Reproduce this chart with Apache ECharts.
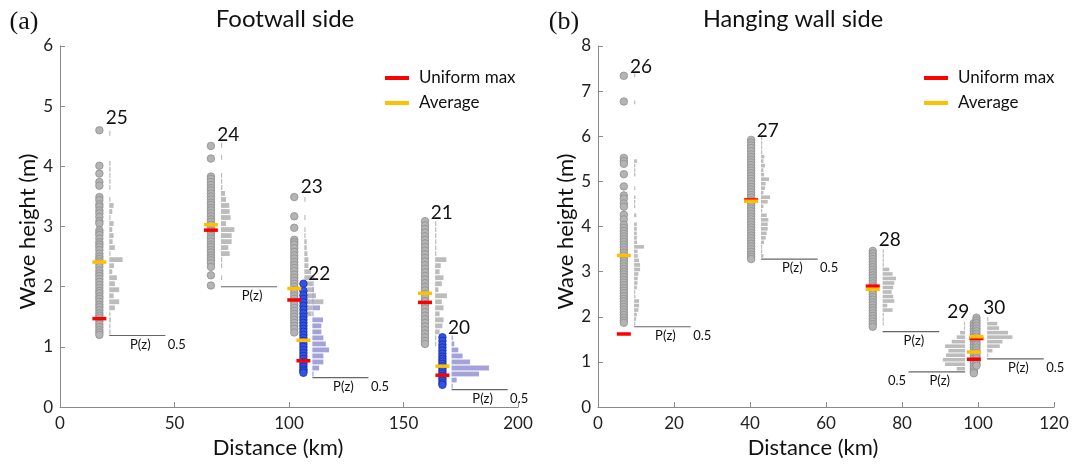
<!DOCTYPE html>
<html><head><meta charset="utf-8">
<script src="https://cdn.jsdelivr.net/npm/echarts@6/dist/echarts.min.js"></script>
<style>html,body{margin:0;padding:0;background:#fff}#c{width:1073px;height:464px}</style>
</head><body><div id="c"></div>
<script>
// ---------------- DATA ----------------
// Panel (a) Footwall side
const fwSites = ['25', '24', '23', '22', '21', '20'];
const fwDistance = [17.2, 65.9, 102.3, 106.3, 159.4, 167.0];   // km, column of points
const fwHistBase = [21.5, 70.3, 106.7, 110.2, 163.8, 171.0];   // km, P(z)=0 line of histogram
const fwUniformMax = [1.47, 2.94, 1.78, 0.77, 1.74, 0.53];
const fwAverage = [2.41, 3.03, 1.97, 1.11, 1.89, 0.68];
const fwPzLevel = [1.19, 2.00, null, 0.49, null, 0.29];

const h25 = [4.60, 4.01, 3.88, 3.74, 3.68, 3.49, 3.44, 3.37, 3.33, 3.27, 3.22, 3.16, 3.09, 3.05, 2.94, 2.90, 2.86, 2.80, 2.74, 2.70, 2.66, 2.61, 2.55, 2.50, 2.46, 2.42, 2.38, 2.33, 2.27, 2.22, 2.18, 2.13, 2.08, 2.03, 1.98, 1.93, 1.89, 1.84, 1.80, 1.75, 1.70, 1.66, 1.61, 1.56, 1.52, 1.48, 1.43, 1.38, 1.33, 1.28, 1.24, 1.20];
const h24 = [4.34, 4.13, 3.83, 3.79, 3.74, 3.69, 3.64, 3.60, 3.55, 3.50, 3.45, 3.40, 3.36, 3.31, 3.27, 3.22, 3.17, 3.12, 3.08, 3.03, 2.98, 2.93, 2.89, 2.84, 2.80, 2.75, 2.70, 2.66, 2.61, 2.57, 2.52, 2.48, 2.44, 2.39, 2.33, 2.19, 2.02];
const h23 = [3.49, 3.17, 2.98, 2.78, 2.74, 2.70, 2.64, 2.58, 2.52, 2.47, 2.41, 2.36, 2.31, 2.26, 2.20, 2.15, 2.10, 2.05, 2.00, 1.95, 1.90, 1.85, 1.80, 1.75, 1.70, 1.65, 1.60, 1.55, 1.50, 1.45, 1.40, 1.35, 1.30, 1.24];
const h22 = [2.05, 1.93, 1.86, 1.80, 1.74, 1.68, 1.62, 1.56, 1.50, 1.45, 1.40, 1.35, 1.30, 1.25, 1.20, 1.15, 1.10, 1.05, 1.00, 0.95, 0.90, 0.85, 0.80, 0.75, 0.71, 0.67, 0.63, 0.60, 0.57];
const h21 = [3.09, 3.02, 2.96, 2.90, 2.84, 2.78, 2.72, 2.66, 2.60, 2.54, 2.48, 2.42, 2.36, 2.30, 2.24, 2.18, 2.12, 2.06, 2.00, 1.94, 1.88, 1.82, 1.76, 1.70, 1.64, 1.58, 1.52, 1.46, 1.40, 1.34, 1.28, 1.22, 1.16, 1.10, 1.05];
const h20 = [1.16, 1.10, 1.04, 0.99, 0.94, 0.89, 0.84, 0.80, 0.76, 0.72, 0.68, 0.64, 0.60, 0.56, 0.52, 0.48, 0.44, 0.40, 0.37];

// histograms: [bin centre (m), P(z)]
const p25 = [[4.55,0.01],[4.05,0.012],[3.95,0.012],[3.85,0.01],[3.75,0.012],[3.65,0.008],[3.45,0.01],[3.35,0.039],[3.25,0.027],[3.15,0.01],[3.05,0.039],[2.95,0.027],[2.85,0.039],[2.75,0.03],[2.65,0.05],[2.55,0.01],[2.45,0.119],[2.35,0.042],[2.25,0.027],[2.15,0.068],[2.05,0.05],[1.95,0.089],[1.85,0.039],[1.75,0.089],[1.65,0.05],[1.55,0.01],[1.45,0.015],[1.35,0.01],[1.25,0.012]];
const p24 = [[4.35,0.008],[4.15,0.01],[3.85,0.01],[3.75,0.01],[3.65,0.012],[3.55,0.036],[3.45,0.045],[3.35,0.074],[3.25,0.077],[3.15,0.086],[3.05,0.045],[2.95,0.119],[2.85,0.095],[2.75,0.095],[2.65,0.065],[2.55,0.077],[2.45,0.01],[2.35,0.01],[2.15,0.008]];
const p23 = [[3.45,0.01],[3.15,0.008],[2.95,0.008],[2.85,0.01],[2.75,0.021],[2.65,0.021],[2.55,0.027],[2.45,0.036],[2.35,0.036],[2.25,0.06],[2.15,0.089],[2.05,0.071],[1.95,0.086],[1.85,0.104],[1.75,0.17],[1.65,0.071],[1.55,0.065],[1.45,0.01],[1.35,0.01],[1.25,0.008]];
const p22 = [[2.05,0.008],[1.95,0.008],[1.85,0.01],[1.75,0.01],[1.65,0.068],[1.55,0.01],[1.45,0.095],[1.35,0.08],[1.25,0.08],[1.15,0.098],[1.05,0.12],[0.95,0.149],[0.85,0.098],[0.75,0.098],[0.65,0.06],[0.55,0.01]];
const p21 = [[3.05,0.01],[2.95,0.008],[2.85,0.01],[2.75,0.008],[2.65,0.01],[2.55,0.01],[2.45,0.1],[2.35,0.05],[2.25,0.04],[2.15,0.075],[2.05,0.06],[1.95,0.03],[1.85,0.105],[1.75,0.06],[1.65,0.075],[1.55,0.04],[1.45,0.075],[1.35,0.065],[1.25,0.04],[1.15,0.01],[1.05,0.008]];
const p20 = [[1.15,0.01],[1.05,0.024],[0.95,0.06],[0.85,0.098],[0.75,0.164],[0.65,0.333],[0.55,0.244],[0.45,0.045],[0.35,0.01]];

// Panel (b) Hanging wall side
const hwSites = ['26', '27', '28', '29', '30'];
const hwDistance = [6.8, 40.3, 72.3, 98.9, 99.6];
const hwHistBase = [9.5, 42.9, 74.9, 96.6, 102.4];
const hwUniformMax = [1.62, 4.59, 2.68, 1.06, 1.52];
const hwAverage = [3.36, 4.56, 2.61, 1.22, 1.56];
const hwPzLevel = [1.78, 3.28, 1.67, 0.78, 1.07];

const h26 = [7.34, 6.77, 5.52, 5.45, 5.39, 5.16, 4.89, 4.69, 4.62, 4.51, 4.44, 4.26, 4.16, 4.04, 3.97, 3.90, 3.84, 3.78, 3.72, 3.66, 3.60, 3.54, 3.48, 3.42, 3.36, 3.30, 3.24, 3.18, 3.12, 3.06, 3.00, 2.94, 2.88, 2.82, 2.76, 2.70, 2.64, 2.58, 2.52, 2.46, 2.40, 2.34, 2.28, 2.22, 2.16, 2.10, 2.04, 1.98, 1.92, 1.87];
const h27 = [5.92, 5.86, 5.80, 5.74, 5.67, 5.60, 5.54, 5.48, 5.42, 5.36, 5.30, 5.24, 5.18, 5.12, 5.06, 5.00, 4.94, 4.88, 4.82, 4.76, 4.70, 4.64, 4.58, 4.52, 4.46, 4.40, 4.34, 4.28, 4.22, 4.16, 4.10, 4.04, 3.98, 3.92, 3.86, 3.80, 3.74, 3.68, 3.62, 3.56, 3.50, 3.44, 3.38, 3.33, 3.28];
const h28 = [3.46, 3.40, 3.34, 3.28, 3.22, 3.16, 3.10, 3.04, 2.98, 2.92, 2.86, 2.80, 2.74, 2.68, 2.62, 2.56, 2.50, 2.44, 2.38, 2.32, 2.26, 2.20, 2.14, 2.08, 2.02, 1.96, 1.90, 1.84, 1.78];
const h29 = [1.86, 1.80, 1.74, 1.68, 1.62, 1.56, 1.50, 1.44, 1.38, 1.32, 1.26, 1.20, 1.14, 1.08, 1.02, 0.96, 0.90, 0.84, 0.79, 0.75];
const h30 = [1.98, 1.92, 1.86, 1.80, 1.74, 1.68, 1.62, 1.56, 1.50, 1.44, 1.38, 1.32, 1.26, 1.20, 1.14, 1.08, 1.02, 0.96, 0.92];

const p26 = [[7.35,0.008],[6.75,0.008],[5.45,0.024],[5.35,0.01],[5.25,0.01],[5.15,0.012],[4.85,0.01],[4.65,0.012],[4.55,0.01],[4.45,0.008],[4.25,0.02],[4.05,0.024],[3.95,0.024],[3.85,0.024],[3.75,0.024],[3.65,0.027],[3.55,0.088],[3.45,0.03],[3.35,0.032],[3.25,0.044],[3.15,0.053],[3.05,0.053],[2.95,0.038],[2.85,0.032],[2.75,0.03],[2.65,0.024],[2.55,0.01],[2.45,0.012],[2.35,0.044],[2.25,0.044],[2.15,0.038],[2.05,0.024],[1.95,0.018],[1.85,0.01]];
const p27 = [[5.95,0.006],[5.85,0.008],[5.75,0.008],[5.65,0.01],[5.55,0.029],[5.45,0.021],[5.35,0.035],[5.25,0.021],[5.15,0.027],[5.05,0.07],[4.95,0.041],[4.85,0.035],[4.75,0.021],[4.65,0.08],[4.55,0.059],[4.45,0.021],[4.35,0.01],[4.25,0.05],[4.15,0.065],[4.05,0.059],[3.95,0.059],[3.85,0.05],[3.75,0.041],[3.65,0.027],[3.55,0.01],[3.45,0.008],[3.35,0.021]];
const p28 = [[3.45,0.008],[3.35,0.008],[3.25,0.01],[3.15,0.01],[3.05,0.059],[2.95,0.088],[2.85,0.118],[2.75,0.103],[2.65,0.094],[2.55,0.08],[2.45,0.094],[2.35,0.103],[2.25,0.041],[2.15,0.088],[2.05,0.01],[1.95,0.008],[1.85,0.01]];
const p29 = [[1.85,0.008],[1.75,0.01],[1.65,0.044],[1.55,0.074],[1.45,0.118],[1.35,0.177],[1.25,0.147],[1.15,0.168],[1.05,0.197],[0.95,0.177],[0.85,0.074]];
const p30 = [[1.95,0.01],[1.85,0.09],[1.75,0.106],[1.65,0.185],[1.55,0.224],[1.45,0.135],[1.35,0.112],[1.25,0.047],[1.15,0.01]];

const xTicksA = [0, 50, 100, 150, 200];
const yTicksA = [0, 1, 2, 3, 4, 5, 6];
const xTicksB = [0, 20, 40, 60, 80, 100, 120];
const yTicksB = [0, 1, 2, 3, 4, 5, 6, 7, 8];

// ---------------- LAYOUT / STYLE ----------------
const fwHeights = [h25, h24, h23, h22, h21, h20];
const fwHists = [p25, p24, p23, p22, p21, p20];
const hwHeights = [h26, h27, h28, h29, h30];
const hwHists = [p26, p27, p28, p29, p30];

const fwBlue = [false, false, false, true, false, true];
const hwDir = [1, 1, 1, -1, 1];
const fwShowHalf = [true, false, false, true, false, true];
const hwShowHalf = [true, true, false, true, true];
const fwLabelAt = [[24.8, 4.80], [73.5, 4.52], [109.9, 3.66], [113.2, 2.21], [166.7, 3.22], [174.2, 1.32]];
const hwLabelAt = [[11.3, 7.54], [44.7, 6.11], [76.8, 3.70], [94.8, 2.11], [104.3, 2.19]];
const kmPerP = [49, 29.8];   // horizontal length of P(z)=1 in km, per panel

const FONT = 'Lato, "Noto Sans", sans-serif';
const RED = '#ff0000', YEL = '#ffc000';
const GRAY_PT = '#b4b4b4', GRAY_EDGE = '#8e8e8e';
const BLUE_PT = '#3153ea', BLUE_EDGE = '#1c2f9c';
const GRAY_BAR = '#bcbcbc', BLUE_BAR = '#a3a3d9';
const AXIS = '#8a8a8a';

function scatterS(g, x, ys, blue) {
  return {
    type: 'scatter', xAxisIndex: g, yAxisIndex: g, z: 2, silent: true,
    symbolSize: 7.5,
    itemStyle: { color: blue ? BLUE_PT : GRAY_PT, borderColor: blue ? BLUE_EDGE : GRAY_EDGE, borderWidth: 0.8, opacity: 1 },
    data: ys.map(y => [x, y])
  };
}
function histS(g, base, dir, bins, color) {
  const sc = kmPerP[g];
  return {
    type: 'custom', xAxisIndex: g, yAxisIndex: g, z: 2, silent: true,
    data: bins.map(b => [b[0], b[1]]),
    renderItem(params, api) {
      const y = api.value(0), p = api.value(1);
      const a = api.coord([base, y + 0.04]);
      const b = api.coord([base + dir * p * sc, y - 0.04]);
      let w = Math.abs(b[0] - a[0]);
      if (w < 1.2) w = 1.2;
      const x0 = dir > 0 ? a[0] : a[0] - w;
      return { type: 'rect', shape: { x: x0, y: a[1], width: w, height: b[1] - a[1] }, style: { fill: color } };
    }
  };
}
function markS(name, g, xs, ys, color) {
  const d = [];
  xs.forEach((x, i) => d.push([x, ys[i]]));
  return {
    type: 'custom', name, xAxisIndex: g, yAxisIndex: g, z: 4, silent: true,
    itemStyle: { color },
    data: d,
    renderItem(params, api) {
      const c = api.coord([api.value(0), api.value(1)]);
      return { type: 'line', shape: { x1: c[0] - 7, y1: c[1], x2: c[0] + 7, y2: c[1] }, style: { stroke: color, lineWidth: 3.5 } };
    }
  };
}
function textStyle(t, size, align) {
  return { text: t, fill: '#111', fontSize: size, fontFamily: FONT, align: align || 'center', verticalAlign: 'middle', textAlign: align || 'center', textVerticalAlign: 'middle' };
}
function labelS(g, names, pos) {
  return {
    type: 'custom', xAxisIndex: g, yAxisIndex: g, z: 6, silent: true,
    data: pos.map(p => [p[0], p[1]]),
    renderItem(params, api) {
      const c = api.coord([api.value(0), api.value(1)]);
      return { type: 'text', x: c[0], y: c[1], style: textStyle(names[params.dataIndex], 19) };
    }
  };
}
function pzS(g, bases, levels, dirs, showHalf) {
  const sc = kmPerP[g];
  const d = [], meta = [];
  bases.forEach((b, i) => { if (levels[i] != null) { d.push([b, levels[i]]); meta.push({ dir: dirs[i], half: showHalf[i] }); } });
  return {
    type: 'custom', xAxisIndex: g, yAxisIndex: g, z: 5, silent: true,
    data: d,
    renderItem(params, api) {
      const m = meta[params.dataIndex];
      const b = api.value(0), lv = api.value(1);
      const s = api.coord([b, lv]);
      const e = api.coord([b + m.dir * 0.5 * sc, lv]);
      const mid = api.coord([b + m.dir * 0.25 * sc, lv]);
      const ch = [
        { type: 'line', shape: { x1: s[0], y1: s[1], x2: e[0], y2: e[1] }, style: { stroke: '#666', lineWidth: 1.2 } },
        { type: 'text', x: mid[0] + 3, y: mid[1] + 9, style: textStyle('P(z)', 13) }
      ];
      if (m.half) ch.push({ type: 'text', x: e[0] + m.dir * 11.5, y: e[1] + 9, style: textStyle('0.5', 13) });
      return { type: 'group', children: ch };
    }
  };
}

const series = [];
fwSites.forEach((s, i) => {
  series.push(scatterS(0, fwDistance[i], fwHeights[i], fwBlue[i]));
  series.push(histS(0, fwHistBase[i], 1, fwHists[i], fwBlue[i] ? BLUE_BAR : GRAY_BAR));
});
hwSites.forEach((s, i) => {
  series.push(scatterS(1, hwDistance[i], hwHeights[i], false));
  series.push(histS(1, hwHistBase[i], hwDir[i], hwHists[i], GRAY_BAR));
});
series.push(markS('Uniform max', 0, fwDistance, fwUniformMax, RED));
series.push(markS('Uniform max', 1, hwDistance, hwUniformMax, RED));
series.push(markS('Average', 0, fwDistance, fwAverage, YEL));
series.push(markS('Average', 1, hwDistance, hwAverage, YEL));
series.push(pzS(0, fwHistBase, fwPzLevel, [1, 1, 1, 1, 1, 1], fwShowHalf));
series.push(pzS(1, hwHistBase, hwPzLevel, hwDir, hwShowHalf));
series.push(labelS(0, fwSites, fwLabelAt));
series.push(labelS(1, hwSites, hwLabelAt));

function xAx(g, ticks, padR) {
  return {
    gridIndex: g, type: 'value', min: ticks[0], max: ticks[ticks.length - 1], interval: ticks[1] - ticks[0],
    name: 'Distance (km)', nameLocation: 'middle', nameGap: 25,
    nameTextStyle: { fontSize: 22, color: '#111', fontFamily: FONT, padding: [0, padR, 0, 0] },
    axisLine: { lineStyle: { color: AXIS, width: 1 } },
    axisTick: { inside: true, length: 5, lineStyle: { color: AXIS } },
    axisLabel: { fontSize: 17, color: '#222', fontFamily: FONT, margin: 8 },
    splitLine: { show: false }
  };
}
function yAx(g, ticks) {
  return {
    gridIndex: g, type: 'value', min: ticks[0], max: ticks[ticks.length - 1], interval: ticks[1] - ticks[0],
    name: 'Wave height (m)', nameLocation: 'middle', nameGap: 21,
    nameTextStyle: { fontSize: 22, color: '#111', fontFamily: FONT, padding: [0, 10, 0, 0] },
    axisLine: { show: true, lineStyle: { color: AXIS, width: 1 } },
    axisTick: { show: true, inside: true, length: 5, lineStyle: { color: AXIS } },
    axisLabel: { fontSize: 17, color: '#222', fontFamily: FONT, margin: 7 },
    splitLine: { show: false }
  };
}
function legendAt(left) {
  return {
    data: ['Uniform max', 'Average'], orient: 'vertical', left, top: 63, icon: 'rect',
    itemWidth: 24, itemHeight: 4, itemGap: 5, selectedMode: false,
    textStyle: { fontSize: 17, color: '#111', fontFamily: FONT, lineHeight: 20, padding: [0, 0, 0, 5] }
  };
}

const chart = echarts.init(document.getElementById('c'), null, { renderer: 'canvas' });
chart.setOption({
  animation: false,
  backgroundColor: '#fff',
  grid: [
    { left: 60, top: 46, width: 458, height: 368.5 },
    { left: 598, top: 46, width: 456, height: 368.5 }
  ],
  xAxis: [xAx(0, xTicksA, 22), xAx(1, xTicksB, 26)],
  yAxis: [yAx(0, yTicksA), yAx(1, yTicksB)],
  legend: [legendAt(380), legendAt(919)],
  graphic: [
    { type: 'text', x: 24, y: 22, style: { text: '(a)', fill: '#111', fontSize: 26, fontFamily: '"Liberation Serif", serif', align: 'center', verticalAlign: 'middle', textAlign: 'center', textVerticalAlign: 'middle' } },
    { type: 'text', x: 285, y: 19, style: { text: 'Footwall side', fill: '#111', fontSize: 24, fontFamily: FONT, align: 'center', verticalAlign: 'middle', textAlign: 'center', textVerticalAlign: 'middle' } },
    { type: 'text', x: 564, y: 22, style: { text: '(b)', fill: '#111', fontSize: 26, fontFamily: '"Liberation Serif", serif', align: 'center', verticalAlign: 'middle', textAlign: 'center', textVerticalAlign: 'middle' } },
    { type: 'text', x: 793, y: 19, style: { text: 'Hanging wall side', fill: '#111', fontSize: 23.5, fontFamily: FONT, align: 'center', verticalAlign: 'middle', textAlign: 'center', textVerticalAlign: 'middle' } }
  ],
  series
});
</script></body></html>
